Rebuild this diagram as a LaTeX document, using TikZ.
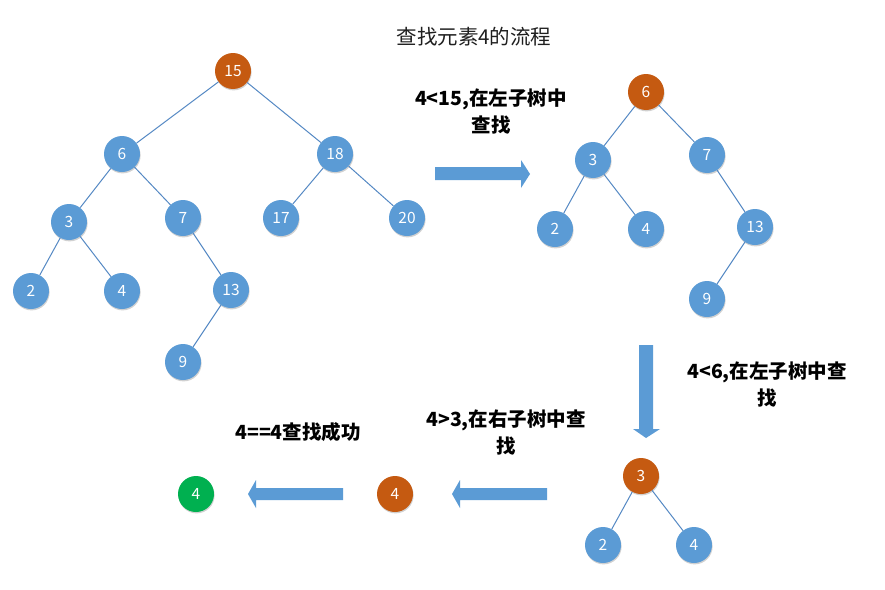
\documentclass[tikz,border=0pt]{standalone}
\usepackage{fontspec}
\newfontfamily\cjk{Noto Sans CJK SC}
\usetikzlibrary{shadows}
\definecolor{nblue}{HTML}{5B9BD5}
\definecolor{norange}{HTML}{C55A11}
\definecolor{ngreen}{HTML}{00B050}
\definecolor{eblue}{HTML}{5589C4}
\definecolor{ablue}{HTML}{5B9BD5}
\tikzset{
  tnode/.style={circle, minimum size=36pt, inner sep=0pt, fill=nblue, text=white,
    font=\cjk\fontsize{15.5}{15.5}\selectfont,
    drop shadow={shadow xshift=0.6pt, shadow yshift=-1.4pt, opacity=0.18, fill=black}},
  hit/.style={tnode, fill=norange},
  found/.style={tnode, fill=ngreen},
  edge/.style={draw=eblue, line width=1pt},
  blockarrow/.style={fill=ablue, draw=none},
  lbl/.style={align=center, font=\cjk\bfseries\fontsize{19.5}{27}\selectfont, text=black},
  ttl/.style={font=\cjk\fontsize{20.5}{22}\selectfont, text=black!88}
}
\begin{document}
\begin{tikzpicture}[x=1pt, y=-1pt]
\useasboundingbox (0,0) rectangle (885,589);
\fill[white] (0,0) rectangle (885,589);

% title
\node[ttl] (title) at (474,37) {查找元素4的流程};

% tree 1
\node[hit]   (a15) at (233,71) {15};
\node[tnode] (a6)  at (122,154) {6};
\node[tnode] (a18) at (335,154) {18};
\node[tnode] (a3)  at (69,222) {3};
\node[tnode] (a7)  at (183,218) {7};
\node[tnode] (a17) at (281,218) {17};
\node[tnode] (a20) at (407,218) {20};
\node[tnode] (a2)  at (31,291) {2};
\node[tnode] (a4)  at (122,291) {4};
\node[tnode] (a13) at (231,290) {13};
\node[tnode] (a9)  at (183,362) {9};
\draw[edge] (a15) -- (a6);
\draw[edge] (a15) -- (a18);
\draw[edge] (a6) -- (a3);
\draw[edge] (a6) -- (a7);
\draw[edge] (a18) -- (a17);
\draw[edge] (a18) -- (a20);
\draw[edge] (a3) -- (a2);
\draw[edge] (a3) -- (a4);
\draw[edge] (a7) -- (a13);
\draw[edge] (a13) -- (a9);

% tree 2
\node[hit]   (b6)  at (646,92) {6};
\node[tnode] (b3)  at (593,160) {3};
\node[tnode] (b7)  at (707,155) {7};
\node[tnode] (b2)  at (555,229) {2};
\node[tnode] (b4)  at (646,229) {4};
\node[tnode] (b13) at (755,227) {13};
\node[tnode] (b9)  at (707,299) {9};
\draw[edge] (b6) -- (b3);
\draw[edge] (b6) -- (b7);
\draw[edge] (b3) -- (b2);
\draw[edge] (b3) -- (b4);
\draw[edge] (b7) -- (b13);
\draw[edge] (b13) -- (b9);

% tree 3
\node[hit]   (c3) at (641,476) {3};
\node[tnode] (c2) at (603,545) {2};
\node[tnode] (c4) at (694,545) {4};
\draw[edge] (c3) -- (c2);
\draw[edge] (c3) -- (c4);

% single nodes
\node[hit]   (d4) at (395,494) {4};
\node[found] (e4) at (196,494) {4};

% block arrows
\fill[blockarrow] (435,167) -- (521,167) -- (521,160) -- (530,174) -- (521,188) -- (521,180) -- (435,180) -- cycle;
\fill[blockarrow] (639,345) -- (653,345) -- (653,429) -- (660,429) -- (646,438) -- (633,429) -- (639,429) -- cycle;
\fill[blockarrow] (547,488) -- (460,488) -- (460,480) -- (452,494) -- (460,508) -- (460,500) -- (547,500) -- cycle;
\fill[blockarrow] (343,488) -- (256,488) -- (256,480) -- (248,494) -- (256,508) -- (256,500) -- (343,500) -- cycle;

% labels
\node[lbl] (l1) at (491,112) {4<15,在左子树中\\查找};
\node[lbl] (l2) at (767,385) {4<6,在左子树中查\\找};
\node[lbl] (l3) at (506,433) {4>3,在右子树中查\\找};
\node[lbl] (l4) at (298,432) {4==4查找成功};
\end{tikzpicture}
\end{document}
